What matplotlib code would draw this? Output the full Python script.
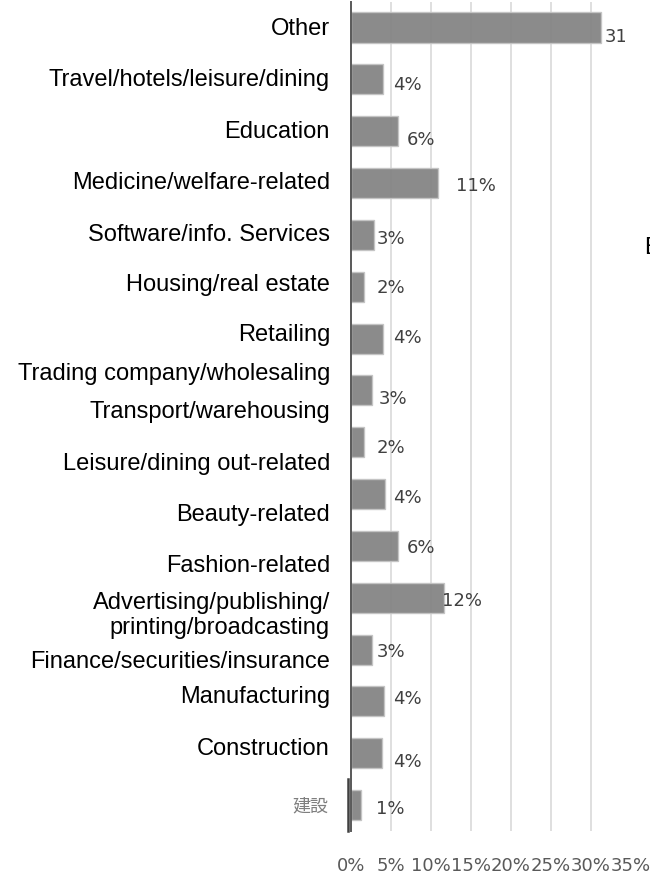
import matplotlib
matplotlib.use('Agg')
import matplotlib.pyplot as plt
import matplotlib.transforms as mtransforms

# share of respondents by industry, top bar first
values = [31.2, 4.0, 5.9, 10.9, 2.9, 1.6, 4.0, 2.6, 1.6, 4.2, 5.9, 11.6, 2.6, 4.1, 3.9, 1.3]
value_label_x = [31.75, 5.25, 7.0, 13.1, 3.25, 3.25, 5.25, 3.5, 3.25, 5.25, 7.0, 11.4, 3.25, 5.25, 5.25, 3.1]
value_label_dy = [8, 5, 7.5, 2, 3, 0, -2, 7.5, 5, 3, 1.5, 2, 1, -3, 8, 3]

industries = ['Other', 'Travel/hotels/leisure/dining', 'Education',
              'Medicine/welfare-related', 'Software/info. Services',
              'Housing/real estate', 'Retailing', 'Trading company/wholesaling',
              'Transport/warehousing', 'Leisure/dining out-related',
              'Beauty-related', 'Fashion-related',
              'Advertising/publishing/\nprinting/broadcasting',
              'Finance/securities/insurance', 'Manufacturing', 'Construction']
industry_y = [0.0, 1.0, 2.0, 2.98, 3.98, 4.94, 5.92, 6.67, 7.39, 8.40,
              9.39, 10.37, 11.32, 12.22, 12.9, 13.9]
jp_label = '建設'

ticks = [0, 5, 10, 15, 20, 25, 30, 35]


def plot_industries():
    fig = plt.figure(figsize=(6.5, 8.78), dpi=100)
    W, H = 650.0, 878.0
    x0, x1 = 351, 625
    y_top, y_bot = 2.6, 832
    ax = fig.add_axes([x0 / W, 1 - y_bot / H, (x1 - x0) / W, (y_bot - y_top) / H])
    band = (y_bot - y_top) / len(values)

    pos = list(range(len(values)))
    ax.barh(pos, values, height=0.58, color='#858585', edgecolor='#c4c4c4',
            linewidth=1, alpha=0.95, zorder=2)

    ax.set_xlim(0, (x1 - x0) / 8.0)
    ax.set_ylim(len(values) - 0.5, -0.5)
    ax.set_xticks([t for t in ticks if 0 < t < 35])
    ax.set_yticks([])
    ax.xaxis.grid(True, color='#d9d9d9', linewidth=1.2, zorder=0)
    ax.tick_params(axis='x', length=0, labelbottom=False)
    for side in ['top', 'right', 'bottom']:
        ax.spines[side].set_visible(False)
    ax.spines['left'].set_color('#595959')
    ax.spines['left'].set_linewidth(1.4)
    ax.spines['left'].set_zorder(3)

    # percentage labels next to each bar
    for i, v in enumerate(values):
        ax.text(value_label_x[i], i + value_label_dy[i] / band, '%d%%' % round(v),
                fontsize=13, color='#404040', va='center', ha='left',
                family='DejaVu Sans', clip_on=True, zorder=4)

    # x axis percentages
    xt = mtransforms.blended_transform_factory(ax.transData, ax.transAxes)
    for t in ticks:
        ax.text(t, -(866 - y_bot) / (y_bot - y_top), '%d%%' % t, transform=xt,
                fontsize=13, color='#595959', ha='center', va='center',
                family='DejaVu Sans', clip_on=False)

    # category names
    yt = mtransforms.blended_transform_factory(ax.transAxes, ax.transData)
    lx = (330 - x0) / float(x1 - x0)
    for name, y in zip(industries, industry_y):
        ax.text(lx, y, name, transform=yt, fontsize=17, color='black',
                ha='right', va='center', family='Liberation Sans',
                linespacing=1.2, clip_on=False)
    ax.text((328 - x0) / float(x1 - x0), len(values) - 1, jp_label, transform=yt,
            fontsize=13, color='#7f7f7f', ha='right', va='center',
            family=['Noto Sans CJK JP', 'DejaVu Sans'], clip_on=False)

    # darker stub on the axis beside the last bar
    ax.plot([-3.0 / (x1 - x0)] * 2, [0, (y_bot - 780) / (y_bot - y_top)],
            transform=ax.transAxes, color='#404040', lw=1.8, clip_on=False, zorder=5)

    fig.text(644 / W, 1 - 248 / H, 'E', fontsize=17, family='Liberation Sans',
             ha='left', va='center')

    fig.savefig('out.png', dpi=100)


def main():
    plot_industries()


if __name__ == '__main__':
    main()
